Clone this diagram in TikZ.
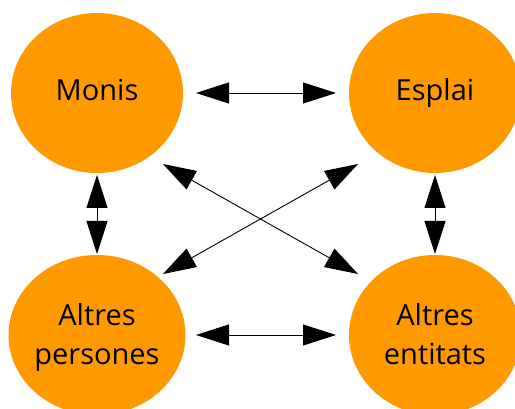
\documentclass[tikz,border=0pt]{standalone}
\usepackage{fontspec}
\setmainfont{Open Sans}
\usetikzlibrary{arrows.meta,shapes.geometric}
\definecolor{orangefill}{RGB}{255,153,0}
\begin{document}
\begin{tikzpicture}[x=1pt,y=1pt,
  blob/.style={ellipse, fill=orangefill, minimum width=172pt, minimum height=160pt, inner sep=0pt, align=center, font=\fontsize{29}{39}\selectfont, text=black},
  oneline/.style={text height=22pt, text depth=6pt},
  twoline/.style={text depth=3pt},
  link/.style={line width=0.9pt, {Triangle[length=33pt,width=21pt]}-{Triangle[length=33pt,width=21pt]}}]
\clip (0,0) rectangle (515,409);
\fill[white] (0,0) rectangle (515,409);
\node[blob, oneline] (m) at (97,316) {Monis};
\node[blob, oneline] (e) at (435,316) {Esplai};
\node[blob, twoline] (p) at (97,74) {Altres\\persones};
\node[blob, twoline] (t) at (435,74) {Altres\\entitats};
\coordinate (me1) at (196,316); \coordinate (me2) at (336,316);
\coordinate (pt1) at (196,74); \coordinate (pt2) at (336,74);
\coordinate (mp1) at (97,234); \coordinate (mp2) at (97,155);
\coordinate (et1) at (435,234); \coordinate (et2) at (435,155);
\coordinate (mt1) at (163,245); \coordinate (mt2) at (358,135);
\coordinate (ep1) at (358,245); \coordinate (ep2) at (163,135);
\draw[link] (me1) -- (me2);
\draw[link] (pt1) -- (pt2);
\draw[link] (mp1) -- (mp2);
\draw[link] (et1) -- (et2);
\draw[link] (mt1) -- (mt2);
\draw[link] (ep1) -- (ep2);
\end{tikzpicture}
\end{document}
